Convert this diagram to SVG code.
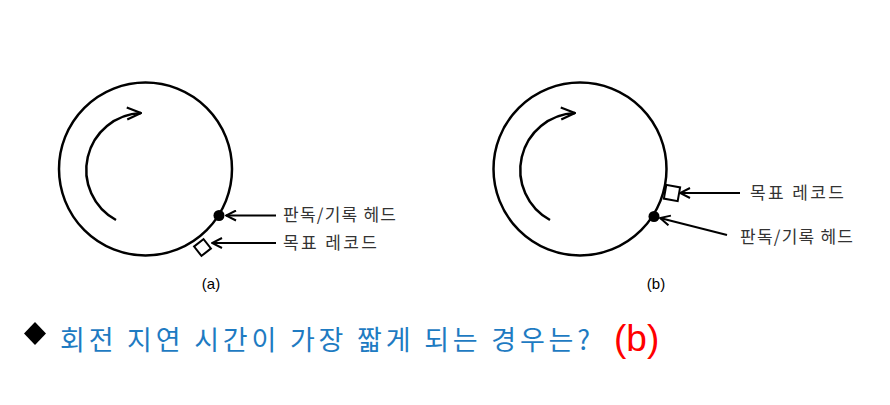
<svg xmlns="http://www.w3.org/2000/svg" width="890" height="405" viewBox="0 0 890 405">
<defs>
<style>
.disk{fill:none;stroke:#000;stroke-width:2.5}
.rot{fill:none;stroke:#000;stroke-width:2.5}
.ln{fill:none;stroke:#000;stroke-width:2}
.rec{fill:#fff;stroke:#000;stroke-width:2}
.lbl{font-family:"Noto Sans CJK KR","Noto Sans",sans-serif;font-size:17px;fill:#333}
.cap{font-family:"Liberation Sans",Arial,sans-serif;font-size:15px;fill:#000}
</style>
<marker id="chev" viewBox="0 0 12 12" refX="11" refY="6" markerWidth="12" markerHeight="12" markerUnits="userSpaceOnUse" orient="auto">
<path d="M1,1 L11,6 L1,11" fill="none" stroke="#000" stroke-width="2"/>
</marker>
<marker id="chev2" viewBox="0 0 16 16" refX="15" refY="8" markerWidth="16" markerHeight="16" markerUnits="userSpaceOnUse" orient="auto">
<path d="M1,2 L15,8 L1,14" fill="none" stroke="#000" stroke-width="2.2"/>
</marker>
</defs>
<rect width="890" height="405" fill="#fff"/>

<g id="diskA">
<circle class="disk" cx="145.5" cy="169" r="86.5"/>
<path class="rot" d="M116,220 A57,57 0 0 1 141,113" marker-end="url(#chev2)"/>
<circle cx="219" cy="215.5" r="5.5" fill="#000"/>
<rect class="rec" x="-6" y="-6" width="12" height="12" transform="translate(202.5,247.5) rotate(-38)"/>
</g>
<g id="diskB">
<circle class="disk" cx="580" cy="169" r="86.5"/>
<path class="rot" d="M550,220 A57,57 0 0 1 575,113" marker-end="url(#chev2)"/>
<circle cx="654" cy="216.5" r="5.5" fill="#000"/>
<rect class="rec" x="-7" y="-7" width="14" height="14" transform="translate(672,193) rotate(10)"/>
</g>

<g id="connectors">
<line class="ln" x1="276" y1="215.5" x2="226" y2="215.5" marker-end="url(#chev)"/>
<line class="ln" x1="276" y1="243" x2="212" y2="243" marker-end="url(#chev)"/>
<line class="ln" x1="740" y1="193" x2="680" y2="193" marker-end="url(#chev)"/>
<line class="ln" x1="727" y1="235" x2="660" y2="218" marker-end="url(#chev)"/>
</g>

<g id="labels">
<text class="lbl" x="283" y="221" textLength="113" lengthAdjust="spacing">판독/기록 헤드</text>
<text class="lbl" x="283" y="249" textLength="94" lengthAdjust="spacing">목표 레코드</text>
<text class="lbl" x="750" y="199" textLength="94" lengthAdjust="spacing">목표 레코드</text>
<text class="lbl" x="740" y="243" textLength="113" lengthAdjust="spacing">판독/기록 헤드</text>
<text class="cap" x="211" y="289" text-anchor="middle">(a)</text>
<text class="cap" x="656" y="289" text-anchor="middle">(b)</text>
</g>

<g id="question">
<polygon points="35,322 46,333.5 35,345 24,333.5" fill="#000"/>
<text x="60" y="350" font-family="'Noto Sans CJK KR','Malgun Gothic',sans-serif" font-size="27" fill="#1e7bc2" textLength="530" lengthAdjust="spacing">회전 지연 시간이 가장 짧게 되는 경우는?</text>
<text x="614" y="351" font-family="'Liberation Sans',Arial,sans-serif" font-size="37" fill="#f00">(b)</text>
</g>
</svg>
